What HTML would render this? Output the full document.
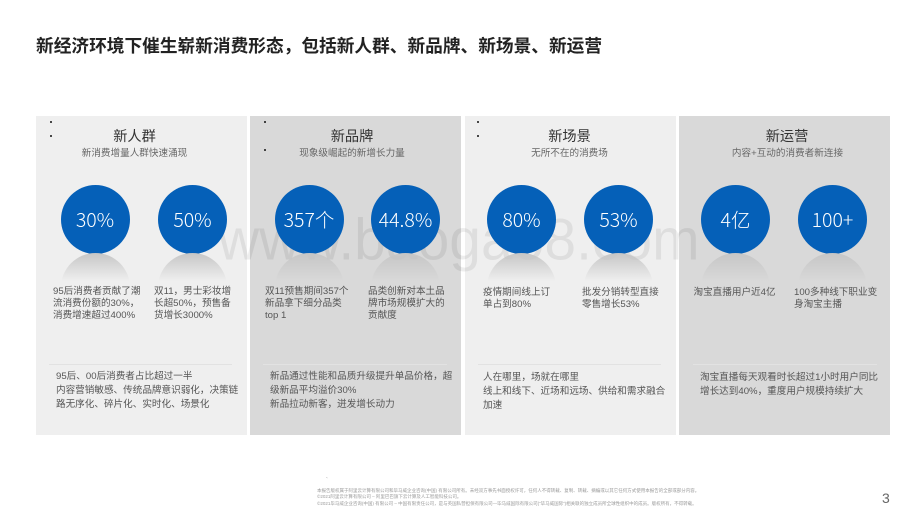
<!DOCTYPE html>
<html lang="zh-CN">
<head>
<meta charset="utf-8">
<title>新经济环境下催生崭新消费形态</title>
<style>
html,body{margin:0;padding:0;background:#fff}
#slide{position:relative;width:920px;height:518px;overflow:hidden;background:#fff;font-family:"Liberation Sans","Noto Sans CJK SC",sans-serif;color:#555;filter:blur(.3px)}
#slide div{position:absolute}
.title{left:36px;top:34px;font-size:17.7px;line-height:24px;font-weight:700;color:#222;white-space:nowrap}
.panel{top:116px;height:319px;width:211px}
.light{background:#efefef}
.dark{background:#d9d9d9}
.watermark{left:218px;top:208px;font-size:57px;line-height:64px;color:rgba(0,0,0,.07);white-space:nowrap;transform:scaleY(1.03);transform-origin:left center}
.head{top:127px;width:211px;text-align:center;font-size:14.2px;line-height:20px;color:#333}
.sub{top:147px;width:211px;text-align:center;font-size:9.6px;line-height:14px;color:#666}
.circle{top:184.5px;width:69px;height:69px;border-radius:50%;background:#0560b8;color:#fff;text-align:center;font-family:"Noto Sans CJK SC",sans-serif;font-weight:300;font-size:19.5px;line-height:67px}
.reflect{top:253px;width:69px;height:28px;overflow:hidden}
.reflect i{display:block;width:69px;height:69px;border-radius:50%;background:linear-gradient(to bottom,#c6c6c6 0,rgba(205,205,205,0) 28px)}
.body{top:286px;font-size:9.6px;line-height:12px;color:#555;white-space:nowrap}
.rule{top:364px;height:1px;background:#e2e2e2}
.note{top:370px;font-size:9.6px;line-height:14px;color:#555;white-space:nowrap}
.dot{width:2px;height:2px;background:#111;border-radius:50%}
.legal{left:317px;font-size:4.5px;line-height:6.5px;color:#9a9a9a;white-space:nowrap}
.page{left:882px;top:489px;font-size:14px;line-height:18px;color:#666}
</style>
</head>
<body>
<div id="slide">
  <div class="title">新经济环境下催生崭新消费形态&#65292;包括新人群、新品牌、新场景、新运营</div>

  <div class="panel light" style="left:36px"></div>
  <div class="panel dark" style="left:250px"></div>
  <div class="panel light" style="left:464.5px"></div>
  <div class="panel dark" style="left:679px"></div>

  <div class="watermark">www.baogao8.com</div>

  <div class="dot" style="left:50px;top:121px"></div>
  <div class="dot" style="left:50px;top:135px"></div>
  <div class="dot" style="left:264px;top:121px"></div>
  <div class="dot" style="left:264px;top:149px"></div>
  <div class="dot" style="left:477px;top:121px"></div>
  <div class="dot" style="left:477px;top:135px"></div>

  <!-- Panel 1 -->
  <div class="head" style="left:29px">新人群</div>
  <div class="sub" style="left:29px">新消费增量人群快速涌现</div>
  <div class="circle" style="left:60.5px">30%</div>
  <div class="circle" style="left:158px">50%</div>
  <div class="reflect" style="left:60.5px"><i></i></div>
  <div class="reflect" style="left:158px"><i></i></div>
  <div class="body" style="left:53px">95后消费者贡献了潮<br>流消费份额的30%&#65292;<br>消费增速超过400%</div>
  <div class="body" style="left:154px">双11&#65292;男士彩妆增<br>长超50%&#65292;预售备<br>货增长3000%</div>
  <div class="rule" style="left:49px;width:183px"></div>
  <div class="note" style="left:56px">95后、00后消费者占比超过一半<br>内容营销敏感、传统品牌意识弱化&#65292;决策链<br>路无序化、碎片化、实时化、场景化</div>

  <!-- Panel 2 -->
  <div class="head" style="left:246.5px">新品牌</div>
  <div class="sub" style="left:246.5px">现象级崛起的新增长力量</div>
  <div class="circle" style="left:274.5px">357个</div>
  <div class="circle" style="left:371px">44.8%</div>
  <div class="reflect" style="left:274.5px"><i></i></div>
  <div class="reflect" style="left:371px"><i></i></div>
  <div class="body" style="left:265px">双11预售期间357个<br>新品拿下细分品类<br>top 1</div>
  <div class="body" style="left:368px">品类创新对本土品<br>牌市场规模扩大的<br>贡献度</div>
  <div class="rule" style="left:263px;width:184px"></div>
  <div class="note" style="left:270px">新品通过性能和品质升级提升单品价格&#65292;超<br>级新品平均溢价30%<br>新品拉动新客&#65292;迸发增长动力</div>

  <!-- Panel 3 -->
  <div class="head" style="left:464px">新场景</div>
  <div class="sub" style="left:464px">无所不在的消费场</div>
  <div class="circle" style="left:487px">80%</div>
  <div class="circle" style="left:584px">53%</div>
  <div class="reflect" style="left:487px"><i></i></div>
  <div class="reflect" style="left:584px"><i></i></div>
  <div class="body" style="left:483px;top:287px">疫情期间线上订<br>单占到80%</div>
  <div class="body" style="left:582px;top:287px">批发分销转型直接<br>零售增长53%</div>
  <div class="rule" style="left:478px;width:183px"></div>
  <div class="note" style="left:483px;top:371px">人在哪里&#65292;场就在哪里<br>线上和线下、近场和远场、供给和需求融合<br>加速</div>

  <!-- Panel 4 -->
  <div class="head" style="left:681.5px">新运营</div>
  <div class="sub" style="left:682px">内容+互动的消费者新连接</div>
  <div class="circle" style="left:701px">4亿</div>
  <div class="circle" style="left:798px">100+</div>
  <div class="reflect" style="left:701px"><i></i></div>
  <div class="reflect" style="left:798px"><i></i></div>
  <div class="body" style="left:693.5px;top:287px">淘宝直播用户近4亿</div>
  <div class="body" style="left:794px;top:287px">100多种线下职业变<br>身淘宝主播</div>
  <div class="rule" style="left:693px;width:184px"></div>
  <div class="note" style="left:700px;top:371px">淘宝直播每天观看时长超过1小时用户同比<br>增长达到40%&#65292;重度用户规模持续扩大</div>

  <!-- Footer -->
  <div class="legal" style="left:326px;top:474px">、</div>
  <div class="legal" style="top:487.5px">本报告版权属于阿里云计算有限公司和毕马威企业咨询(中国) 有限公司所有。未经双方事先书面授权许可&#65292;任何人不得转载、复制、转载、摘编或以其它任何方式使用本报告的全部或部分内容。<br>©2021阿里云计算有限公司 – 阿里巴巴旗下云计算及人工智能科技公司。<br>©2021毕马威企业咨询(中国) 有限公司 – 中国有限责任公司&#65292;是与英国私营担保有限公司—毕马威国际有限公司(&#8220;毕马威国际&#8221;)相关联的独立成员所全球性组织中的成员。版权所有&#65292;不得转载。</div>
  <div class="page">3</div>
</div>
</body>
</html>
